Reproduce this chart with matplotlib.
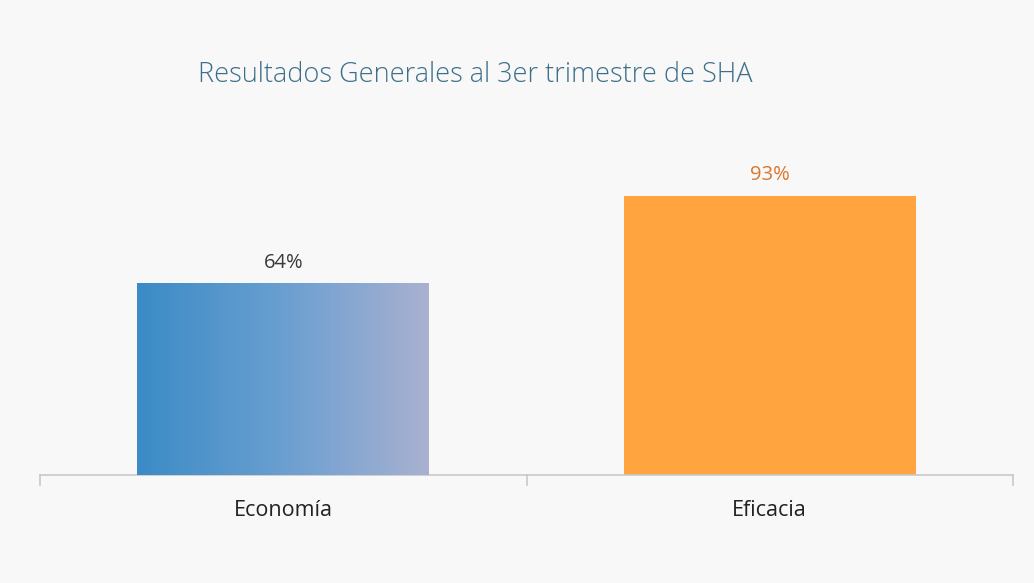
import numpy as np
import matplotlib
matplotlib.use("Agg")
import matplotlib.pyplot as plt
from matplotlib.colors import LinearSegmentedColormap

categories = ["Economía", "Eficacia"]
values = [64, 93]
labels = ["64%", "93%"]
bar_colors = ["#4b91c8", "#ffa43e"]
label_colors = ["#3a3a3a", "#d9772a"]
title = "Resultados Generales al 3er trimestre de SHA"

plt.rcParams['font.family'] = ['Open Sans', 'DejaVu Sans']

fig = plt.figure(figsize=(10.34, 5.83), dpi=100)
fig.patch.set_facecolor("#f8f8f8")
ax = fig.add_axes([40 / 1034, 108 / 583, 973 / 1034, 300 / 583])
ax.set_facecolor("none")

x = np.arange(len(categories))
bars = ax.bar(x, values, width=0.6, color=bar_colors, zorder=2)

# blue bar in the scan fades from blue to a pale lavender
blue_fade = LinearSegmentedColormap.from_list("fade", ["#3b8bc6", "#6a9fd0", "#a9b1d1"])
b = bars[0]
grad = ax.imshow(np.linspace(0, 1, 256).reshape(1, -1), cmap=blue_fade, aspect="auto",
                 extent=[b.get_x(), b.get_x() + b.get_width(), 0, b.get_height()], zorder=3)
grad.set_clip_path(b)

for i, v in enumerate(values):
    ax.text(x[i], v + 3.5, labels[i], ha="center", va="bottom", fontsize=14.5,
            color=label_colors[i])

ax.set_xlim(-0.5, 1.5)
ax.set_ylim(0, 100)
ax.set_xticks(x)
ax.set_xticklabels(categories, fontsize=15.5, color="#222222")
ax.tick_params(axis="x", length=0, pad=18)
ax.set_yticks([])
for s in ["top", "right", "left"]:
    ax.spines[s].set_visible(False)
ax.spines["bottom"].set_color("#c8c8c8")
ax.spines["bottom"].set_linewidth(1.2)
for t in [-0.5, 0.5, 1.5]:
    ax.plot([t, t], [0, -3.3], color="#c8c8c8", lw=1.2, clip_on=False)

fig.text(198 / 1034, 1 - 75 / 583, title, fontsize=19.5, fontweight="light",
         color="#3d6f8a", ha="left", va="center")

fig.savefig("out.png", dpi=100, facecolor=fig.get_facecolor())
